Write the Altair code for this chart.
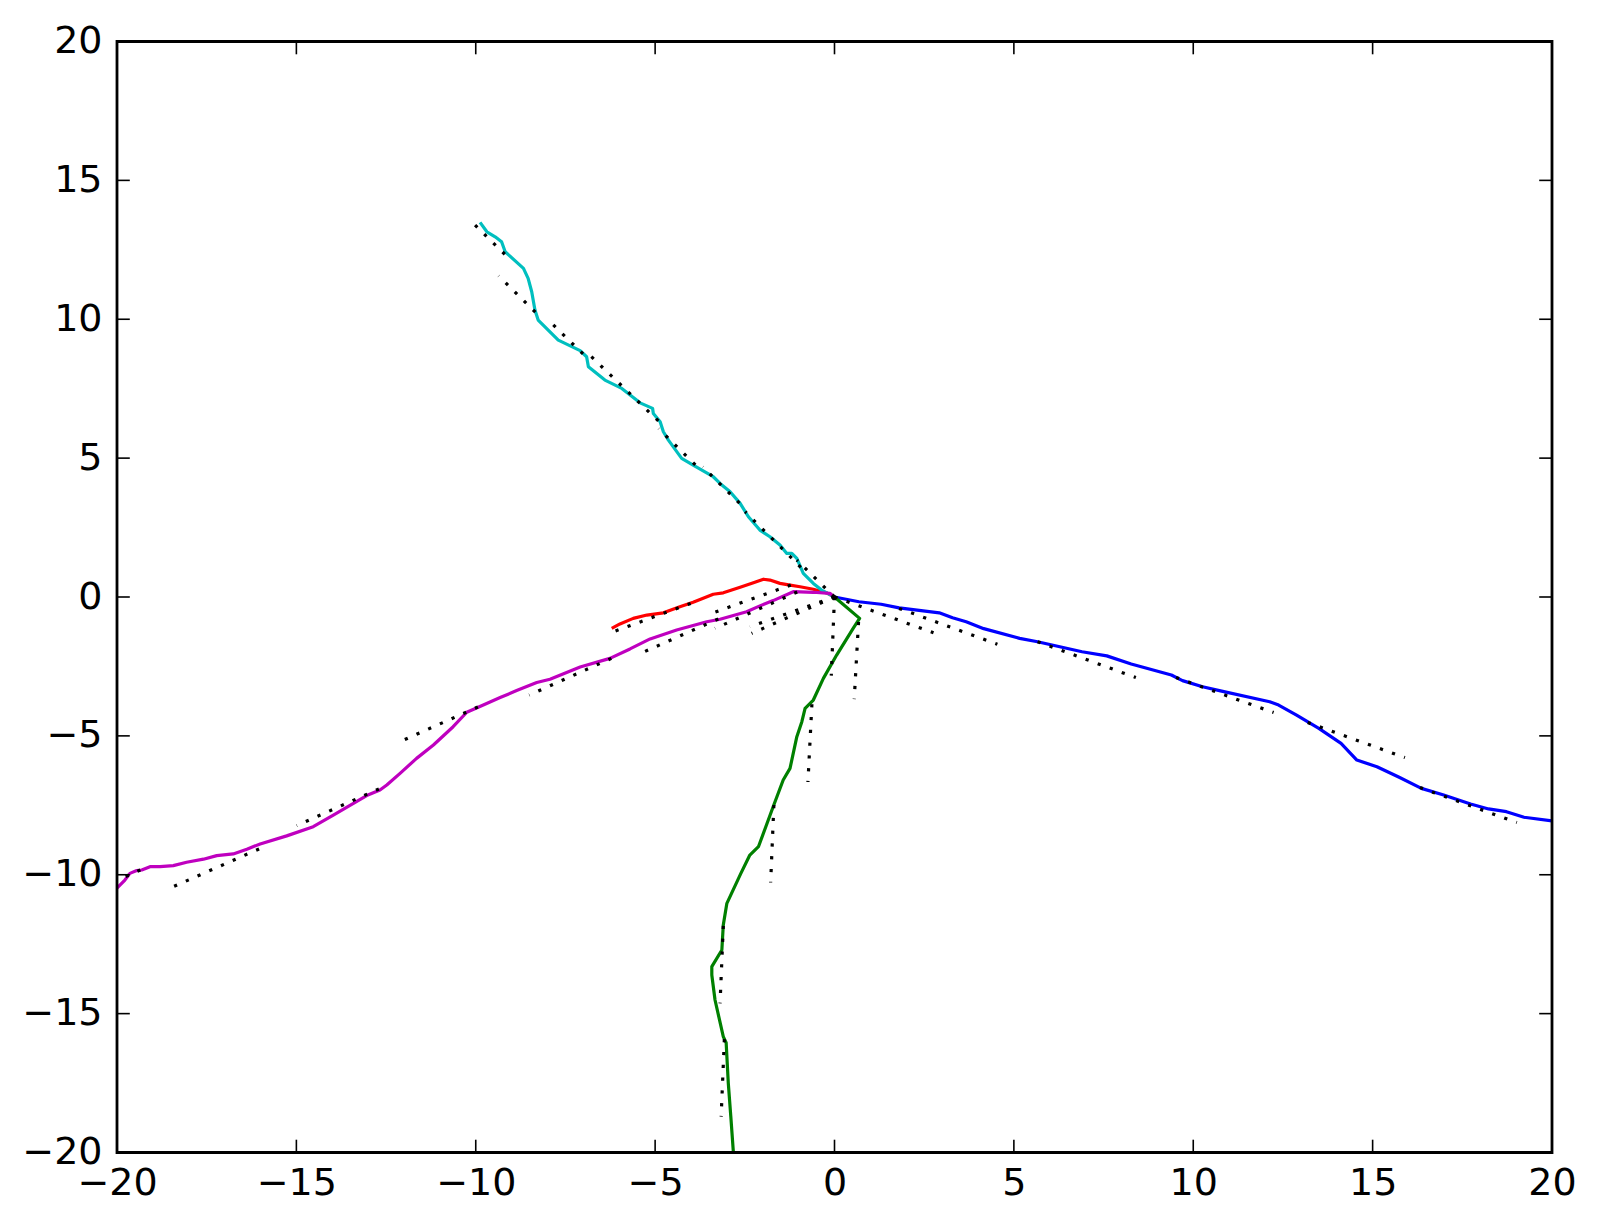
import altair as alt
import pandas as pd

# ---- trajectories (data units) ----
blue_x = [0, 0.43, 0.68, 1.30, 1.80, 2.92, 3.29, 3.67, 4.16, 5.16, 5.66, 6.28, 6.90, 7.59, 8.27, 9.39, 9.70,
          10.26, 10.76, 12.13, 12.38, 12.88, 13.50, 14.12, 14.56, 15.12, 15.74, 16.36, 16.98, 17.73, 18.23,
          18.73, 19.22, 20.0, 20.3]
blue_y = [0, -0.11, -0.17, -0.26, -0.39, -0.57, -0.75, -0.89, -1.14, -1.49, -1.61, -1.79, -1.97, -2.12, -2.41,
          -2.81, -3.01, -3.23, -3.38, -3.77, -3.89, -4.25, -4.73, -5.27, -5.87, -6.11, -6.49, -6.89, -7.13,
          -7.45, -7.63, -7.73, -7.93, -8.06, -8.13]

green_x = [0, 0.70, 0.52, 0.06, -0.31, -0.59, -0.82, -0.91, -1.05, -1.24, -1.43, -1.71, -2.12, -2.36, -2.61,
           -3.00, -3.10, -3.14, -3.42, -3.42, -3.33, -3.10, -3.02, -2.96, -2.89, -2.82, -2.80]
green_y = [0, -0.77, -1.13, -2.09, -2.93, -3.71, -4.01, -4.49, -5.03, -6.17, -6.59, -7.55, -8.99, -9.29, -9.95,
           -11.03, -11.81, -12.71, -13.31, -13.61, -14.51, -15.83, -16.05, -17.51, -18.71, -19.97, -20.3]

red_x = [0, -0.22, -0.59, -0.96, -1.24, -1.52, -1.80, -1.98, -2.26, -2.63, -3.10, -3.38, -3.94, -4.31, -4.77,
         -5.23, -5.61, -5.98, -6.21]
red_y = [0, 0.15, 0.28, 0.37, 0.43, 0.49, 0.61, 0.64, 0.51, 0.35, 0.15, 0.10, -0.19, -0.35, -0.57,
         -0.65, -0.77, -0.97, -1.13]

cyan_x = [0, -0.36, -0.59, -0.87, -1.05, -1.19, -1.33, -1.52, -1.80, -2.08, -2.40, -2.63, -2.91, -3.19, -3.38,
          -3.94, -4.26, -4.63, -4.77, -4.86, -5.05, -5.07, -5.42, -5.93, -6.40, -6.86, -6.91, -7.09, -7.70,
          -8.26, -8.35, -8.44, -8.54, -8.67, -9.18, -9.28, -9.46, -9.69, -9.88]
cyan_y = [0, 0.25, 0.49, 0.85, 1.39, 1.57, 1.57, 1.87, 2.17, 2.41, 2.89, 3.37, 3.79, 4.09, 4.33,
          4.75, 4.99, 5.65, 5.95, 6.31, 6.61, 6.79, 6.99, 7.51, 7.81, 8.29, 8.65, 8.87, 9.25,
          9.97, 10.33, 10.99, 11.47, 11.83, 12.43, 12.79, 12.97, 13.15, 13.49]

magenta_x = [0, -0.13, -0.59, -1.15, -1.71, -2.08, -2.45, -3.19, -3.56, -4.40, -5.14, -5.70, -6.26, -7.09,
             -7.93, -8.30, -8.86, -9.32, -9.79, -10.25, -10.63, -11.18, -11.65, -12.11, -12.48, -12.67, -13.04,
             -13.41, -13.97, -14.53, -15.27, -16.01, -16.38, -16.76, -17.22, -17.59, -18.06, -18.43, -18.80,
             -19.08, -19.31, -19.45, -19.64, -19.78, -19.96, -20.2]
magenta_y = [0, 0.13, 0.17, 0.19, -0.13, -0.32, -0.53, -0.80, -0.89, -1.19, -1.51, -1.87, -2.21, -2.52,
             -2.96, -3.08, -3.37, -3.62, -3.89, -4.15, -4.67, -5.33, -5.81, -6.35, -6.77, -6.95, -7.15,
             -7.43, -7.85, -8.27, -8.60, -8.89, -9.08, -9.25, -9.31, -9.44, -9.55, -9.67, -9.71,
             -9.71, -9.83, -9.85, -9.95, -10.19, -10.43, -10.75]

# ---- dotted prediction segments (start -> end, data units) ----
seg_x1 = [0, 1.80, 5.66, 9.52, 13.19, 16.32,
          0, 0.67, -0.63, -1.69, -3.10, -3.07,
          0, 0, -1.22, -4.01,
          -1.04, -3.24, -6.22, -9.94, -12.70, -16.04, -19.35,
          0, -0.94, -2.65, -3.88, -4.91, -7.01, -8.34, -9.19]
seg_y1 = [0, -0.41, -1.61, -2.90, -4.52, -6.86,
          0, -0.90, -3.86, -7.49, -11.84, -15.92,
          0, 0, 0.43, -0.23,
          0.18, -0.79, -2.21, -3.96, -6.91, -9.07, -9.83,
          0, 1.07, 3.38, 4.76, 6.34, 8.75, 10.26, 12.34]
seg_x2 = [2.76, 4.54, 8.40, 12.24, 15.90, 19.02,
          -0.09, 0.55, -0.74, -1.78, -3.19, -3.16,
          -2.36, -2.31, -3.56, -6.33,
          -3.33, -5.51, -8.51, -12.20, -14.99, -18.45, -21.65,
          -1.05, -2.49, -3.67, -4.90, -6.80, -8.03, -9.36, -10.21]
seg_y2 = [-1.29, -1.70, -2.90, -4.16, -5.78, -8.12,
          -2.83, -3.68, -6.66, -10.28, -14.63, -18.71,
          -1.07, -1.31, -0.65, -1.33,
          -1.13, -2.09, -3.53, -5.26, -8.23, -10.44, -11.14,
          1.33, 3.07, 4.68, 6.06, 8.68, 10.04, 11.56, 13.63]

tick_values = [-20, -15, -10, -5, 0, 5, 10, 15, 20]

W, H = 1435, 1111
FONT = "DejaVu Sans"

xscale = alt.Scale(domain=[-20, 20], nice=False, zero=False)
yscale = alt.Scale(domain=[-20, 20], nice=False, zero=False)

xaxis = alt.Axis(values=tick_values, grid=False, ticks=False, tickSize=0, domain=False,
                 labelFont=FONT, labelFontSize=38, labelColor="black", labelPadding=12,
                 labelFlush=False, labelOverlap=False, title=None, format="d")
yaxis = alt.Axis(values=tick_values, grid=False, ticks=False, tickSize=0, domain=False,
                 labelFont=FONT, labelFontSize=38, labelColor="black", labelPadding=15,
                 labelFlush=False, labelOverlap=False, title=None, format="d")


def series_df(xs, ys):
    return pd.DataFrame({"x": xs, "y": ys, "i": list(range(len(xs)))})


def line_layer(xs, ys, color):
    return alt.Chart(series_df(xs, ys)).mark_line(
        color=color, strokeWidth=3.2, clip=True, strokeJoin="round"
    ).encode(
        x=alt.X("x:Q", scale=xscale, axis=xaxis),
        y=alt.Y("y:Q", scale=yscale, axis=yaxis),
        order=alt.Order("i:Q"),
    )


rows = []
for k in range(len(seg_x1)):
    rows.append({"seg": k, "o": 0, "x": seg_x1[k], "y": seg_y1[k]})
    rows.append({"seg": k, "o": 1, "x": seg_x2[k], "y": seg_y2[k]})
seg_df = pd.DataFrame(rows)

dotted = alt.Chart(seg_df).mark_line(
    color="black", strokeWidth=3.2, strokeDash=[3.2, 9.6], strokeCap="butt", clip=True
).encode(
    x=alt.X("x:Q", scale=xscale, axis=xaxis),
    y=alt.Y("y:Q", scale=yscale, axis=yaxis),
    detail="seg:N",
    order=alt.Order("o:Q"),
)

ticks_df = pd.DataFrame({"v": tick_values})
tick_style = dict(color="black", strokeWidth=1.6)
t_bottom = alt.Chart(ticks_df).mark_rule(**tick_style).encode(
    x=alt.X("v:Q", scale=xscale, axis=xaxis), y=alt.value(H), y2=alt.value(H - 12.8))
t_top = alt.Chart(ticks_df).mark_rule(**tick_style).encode(
    x=alt.X("v:Q", scale=xscale, axis=xaxis), y=alt.value(0), y2=alt.value(12.8))
t_left = alt.Chart(ticks_df).mark_rule(**tick_style).encode(
    y=alt.Y("v:Q", scale=yscale, axis=yaxis), x=alt.value(0), x2=alt.value(12.8))
t_right = alt.Chart(ticks_df).mark_rule(**tick_style).encode(
    y=alt.Y("v:Q", scale=yscale, axis=yaxis), x=alt.value(W), x2=alt.value(W - 12.8))

frame = alt.Chart(pd.DataFrame({"a": [0]})).mark_rect(
    fillOpacity=0, stroke="black", strokeWidth=2.8
).encode(x=alt.value(0), x2=alt.value(W), y=alt.value(0), y2=alt.value(H))

chart = alt.layer(
    line_layer(blue_x, blue_y, "#0000ff"),
    line_layer(green_x, green_y, "#008000"),
    line_layer(red_x, red_y, "#ff0000"),
    line_layer(cyan_x, cyan_y, "#00bfbf"),
    line_layer(magenta_x, magenta_y, "#bf00bf"),
    dotted,
    t_bottom, t_top, t_left, t_right,
    frame,
).properties(
    width=W, height=H,
    padding={"left": 109, "top": 33.5, "right": 40, "bottom": 60},
    autosize=alt.AutoSizeParams(type="none"),
    background="white",
).configure_view(stroke=None).configure(font=FONT)

chart.save("out.html", embed_options={"renderer": "svg", "actions": False})
